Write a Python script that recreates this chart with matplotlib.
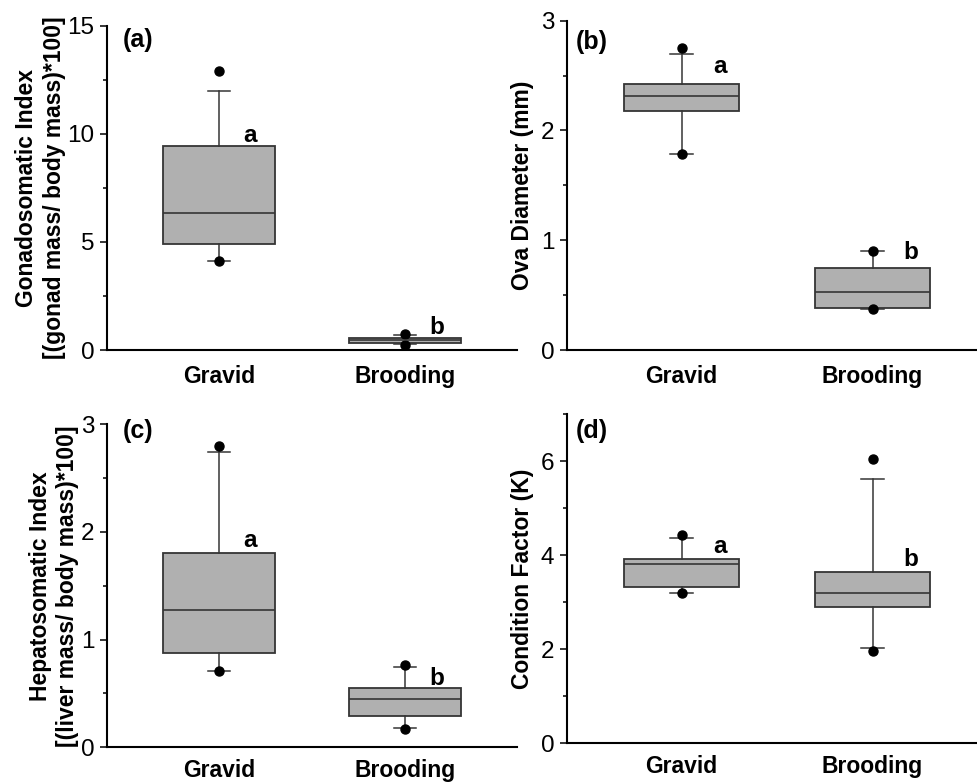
import matplotlib
matplotlib.use("Agg")
import matplotlib.pyplot as plt
from matplotlib.ticker import MultipleLocator

plt.rcParams['font.family'] = ['Liberation Sans', 'DejaVu Sans']

groups = ["Gravid", "Brooding"]
panel_tags = ["(a)", "(b)", "(c)", "(d)"]
ylabels = ["Gonadosomatic Index\n[(gonad mass/ body mass)*100]",
           "Ova Diameter (mm)",
           "Hepatosomatic Index\n[(liver mass/ body mass)*100]",
           "Condition Factor (K)"]

# box statistics per panel: [Gravid, Brooding]
q1 = [[4.89, 0.34], [2.18, 0.385], [0.878, 0.29], [3.33, 2.89]]
med = [[6.36, 0.45], [2.31, 0.53], [1.275, 0.448], [3.81, 3.19]]
q3 = [[9.44, 0.57], [2.425, 0.75], [1.807, 0.548], [3.91, 3.65]]
whislo = [[4.12, 0.30], [1.79, 0.37], [0.71, 0.176], [3.20, 2.02]]
whishi = [[12.0, 0.70], [2.70, 0.90], [2.74, 0.748], [4.37, 5.62]]
fliers = [[[4.12, 12.9], [0.23, 0.74]],
          [[1.79, 2.75], [0.37, 0.90]],
          [[0.71, 2.80], [0.17, 0.764]],
          [[3.20, 4.43], [1.97, 6.04]]]

# significance letters and their heights
sig_letters = [["a", "b"], ["a", "b"], ["a", "b"], ["a", "b"]]
sig_y = [[9.95, 1.03], [2.58, 0.886], [1.925, 0.64], [4.18, 3.90]]

ylims = [(0, 15), (0, 3), (0, 3), (0, 7)]
major_step = [5, 1, 1, 2]
minor_step = [2.5, 0.5, 0.5, 1]

# axes rectangles in figure fractions
rects = [[0.1095, 0.553, 0.4197, 0.4138],
         [0.5803, 0.553, 0.4197, 0.4206],
         [0.1095, 0.0456, 0.4197, 0.4125],
         [0.5803, 0.0507, 0.4197, 0.4206]]
xlims = [(-0.6, 1.6), (-0.6, 1.547), (-0.6, 1.6), (-0.6, 1.547)]
tag_pos = [(0.039, 0.957), (0.022, 0.934), (0.039, 0.98), (0.022, 0.949)]
letter_dx = [0.167, 0.20, 0.17, 0.20]
xlabel_pad = [11, 11, 8.5, 8.5]
ylabel_pad = [1, 5, 1, 5]

edge = '#353535'
fill = '#b0b0b0'

fig = plt.figure(figsize=(9.77, 7.83), dpi=100)

for i in range(4):
    ax = fig.add_axes(rects[i])
    stats = []
    for g in range(2):
        stats.append(dict(label=groups[g], q1=q1[i][g], med=med[i][g], q3=q3[i][g],
                          whislo=whislo[i][g], whishi=whishi[i][g], fliers=fliers[i][g]))
    ax.bxp(stats, positions=[0, 1], widths=0.6, capwidths=0.12, patch_artist=True,
           boxprops=dict(facecolor=fill, edgecolor=edge, linewidth=1.3),
           medianprops=dict(color=edge, linewidth=1.2),
           whiskerprops=dict(color=edge, linewidth=1.1),
           capprops=dict(color=edge, linewidth=1.1),
           flierprops=dict(marker='o', markerfacecolor='black', markeredgecolor='black',
                           markersize=6.5, linestyle='none'))
    ax.set_xlim(*xlims[i])
    ax.set_ylim(*ylims[i])
    ax.yaxis.set_major_locator(MultipleLocator(major_step[i]))
    ax.yaxis.set_minor_locator(MultipleLocator(minor_step[i]))
    ax.set_xticks([0, 1])
    ax.set_xticklabels(groups, fontsize=16.5, fontweight='bold')
    ax.tick_params(axis='x', length=0, pad=xlabel_pad[i])
    ax.tick_params(axis='y', which='major', length=5, width=1.1, labelsize=17.5, pad=4)
    ax.tick_params(axis='y', which='minor', length=3, width=1.1)
    for s in ['top', 'right']:
        ax.spines[s].set_visible(False)
    for s in ['left', 'bottom']:
        ax.spines[s].set_linewidth(1.5)
        ax.spines[s].set_color('black')
    ax.set_ylabel(ylabels[i], fontsize=16.5, fontweight='bold', linespacing=1.25,
                  labelpad=ylabel_pad[i])
    ax.text(tag_pos[i][0], tag_pos[i][1], panel_tags[i], transform=ax.transAxes,
            fontsize=18, fontweight='bold', va='center', ha='left')
    for g in range(2):
        ax.text(g + letter_dx[i], sig_y[i][g], sig_letters[i][g], fontsize=17.5,
                fontweight='bold', ha='center', va='center')

fig.savefig("out.png", dpi=100)
